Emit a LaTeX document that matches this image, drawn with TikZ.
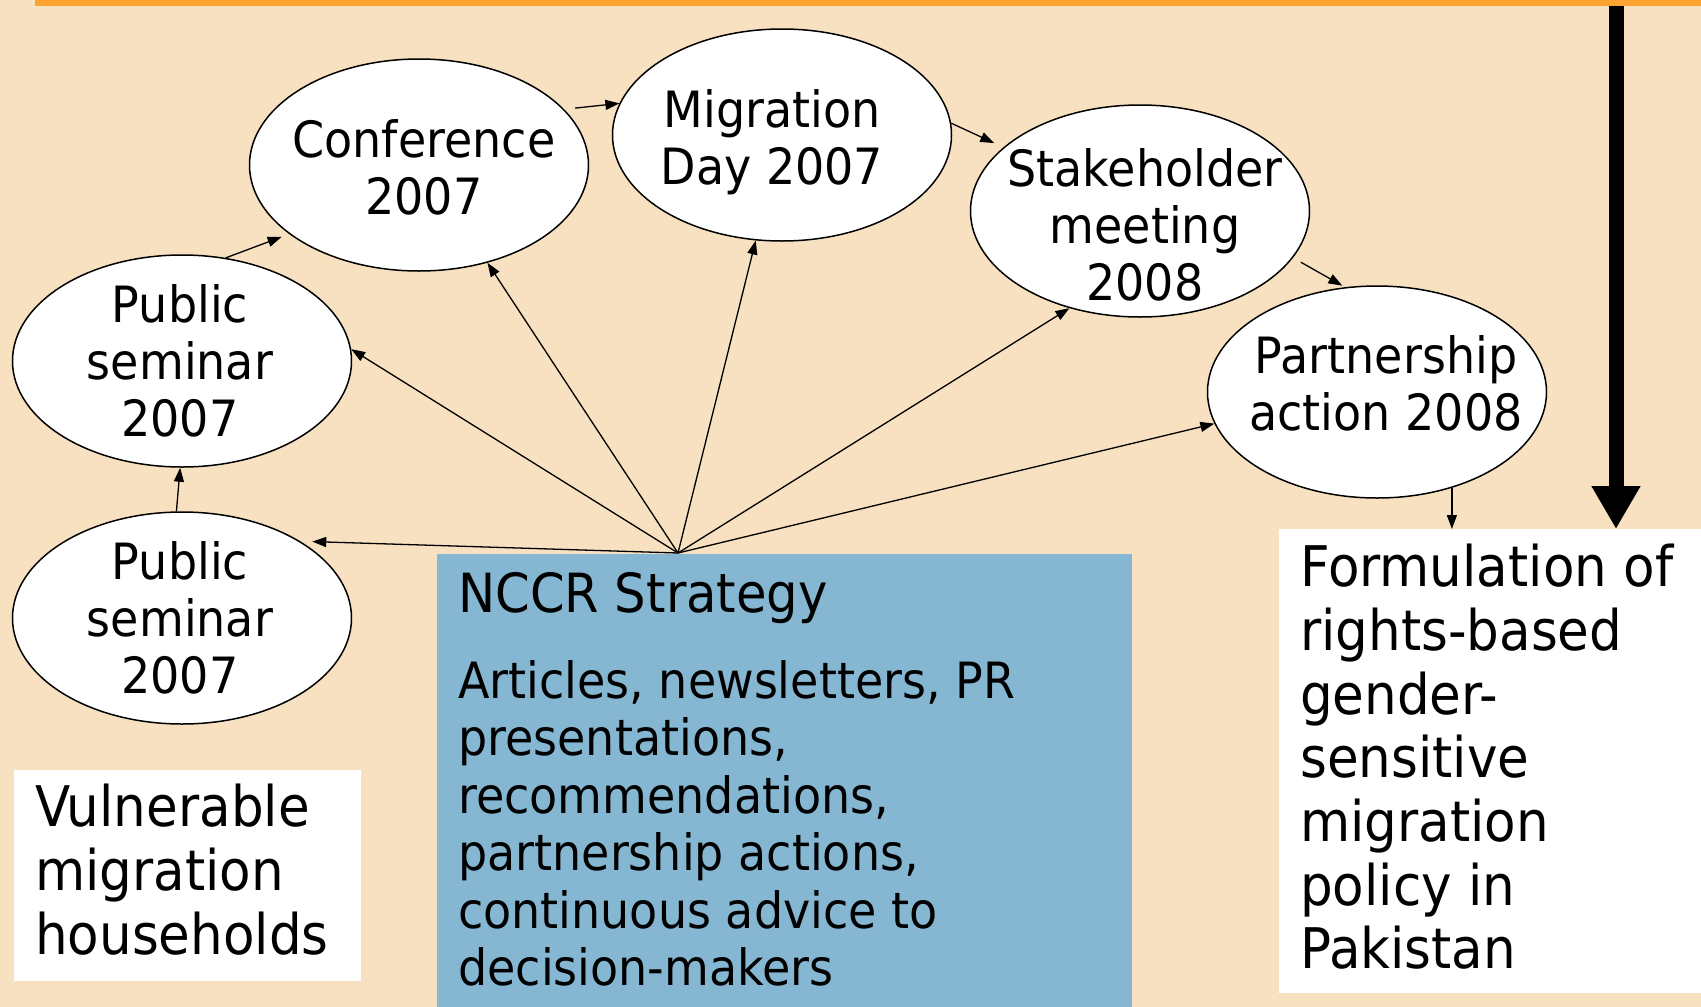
\documentclass[tikz,border=0pt]{standalone}
\usepackage{fontspec}
\setmainfont{DejaVu Sans}[FakeStretch=0.92]
\usetikzlibrary{shapes.geometric,arrows.meta,calc}
\definecolor{bg}{RGB}{247,225,192}
\definecolor{topline}{RGB}{253,163,50}
\definecolor{nccrblue}{RGB}{133,183,210}
\begin{document}
\begin{tikzpicture}[x=1pt,y=-1pt,
  ev/.style={ellipse, draw, line width=1.5pt, fill=white, minimum width=339pt, minimum height=212pt, inner sep=0pt},
  evtext/.style={inner sep=0pt, align=center, font=\fontsize{50pt}{57pt}\selectfont},
  thinarrow/.style={-{Triangle[length=14pt,width=10pt]}, line width=1.3pt},
  txt/.style={anchor=north west, inner sep=0pt, align=left}
]
\useasboundingbox (0,0) rectangle (1701,1007);
\fill[bg] (0,0) rectangle (1701,1007);
\fill[topline] (35,0) rectangle (1701,6);

\node[ev] (ps1) at (182,618) {};
\node[ev] (ps2) at (182,361) {};
\node[ev] (conf) at (419,165) {};
\node[ev] (mig) at (782,135) {};
\node[ev] (stake) at (1140,211) {};
\node[ev] (part) at (1377,392) {};

\node[evtext] (ps1text) at ($(ps1)+(-2,0)$) {Public\\seminar\\2007};
\node[evtext] (ps2text) at ($(ps2)+(-2,0)$) {Public\\seminar\\2007};
\node[evtext] (conftext) at ($(conf)+(5,2)$) {Conference\\2007};
\node[evtext] (migtext) at ($(mig)+(-10,7)$) {Migration\\Day 2007};
\node[evtext] (staketext) at ($(stake)+(5,14)$) {Stakeholder\\meeting\\2008};
\node[evtext] (parttext) at ($(part)+(9,-9)$) {Partnership\\action 2008};

\node[fill=nccrblue, anchor=north west, minimum width=694.5pt, minimum height=453pt, inner sep=0pt] (nccr) at (437,554) {};
\node[txt, font=\fontsize{54pt}{60pt}\selectfont] (nccrhead) at (458,572) {NCCR Strategy};
\node[txt, font=\fontsize{50pt}{57.5pt}\selectfont] (nccrbody) at (458,660) {Articles, newsletters, PR\\presentations,\\recommendations,\\partnership actions,\\continuous advice to\\decision-makers};

\node[fill=white, anchor=north west, minimum width=347pt, minimum height=211pt, inner sep=0pt] (vul) at (14,770) {};
\node[txt, font=\fontsize{56pt}{64pt}\selectfont] (vultext) at (35,784) {Vulnerable\\migration\\households};

\node[fill=white, anchor=north west, minimum width=422pt, minimum height=464pt, inner sep=0pt] (form) at (1279,529) {};
\node[txt, font=\fontsize{56pt}{63.7pt}\selectfont] (formtext) at (1300,544) {Formulation of\\rights-based\\gender-\\sensitive\\migration\\policy in\\Pakistan};

\coordinate (src) at (678,553);
\draw[thinarrow, shorten >=12pt] (src) -- (ps1.33.5);
\draw[thinarrow] (src) -- (ps2.4.6);
\draw[thinarrow] (src) -- (conf.-55);
\draw[thinarrow] (src) -- (mig.-104);
\draw[thinarrow] (src) -- (stake.-126);
\draw[thinarrow] (src) -- (part.191);

\draw[thinarrow] (ps1.93) -- (ps2.-91);
\draw[thinarrow, shorten >=8pt] (ps2.67) -- (conf.208.4);
\draw[thinarrow, shorten <=11pt] (conf.21) -- (mig.169.5);
\draw[thinarrow, shorten >=10pt] (mig.4.7) -- (stake.155.7);
\draw[thinarrow, shorten <=9pt, shorten >=3pt] (stake.-17) -- (part.107.6);
\draw[thinarrow] (part.-52) -- (part.-52 |- form.north);

\coordinate (bigtop) at (1616,6);
\draw[line width=15pt, -{Triangle[length=43pt,width=46pt]}] (bigtop) -- (bigtop |- form.north);
\end{tikzpicture}
\end{document}
